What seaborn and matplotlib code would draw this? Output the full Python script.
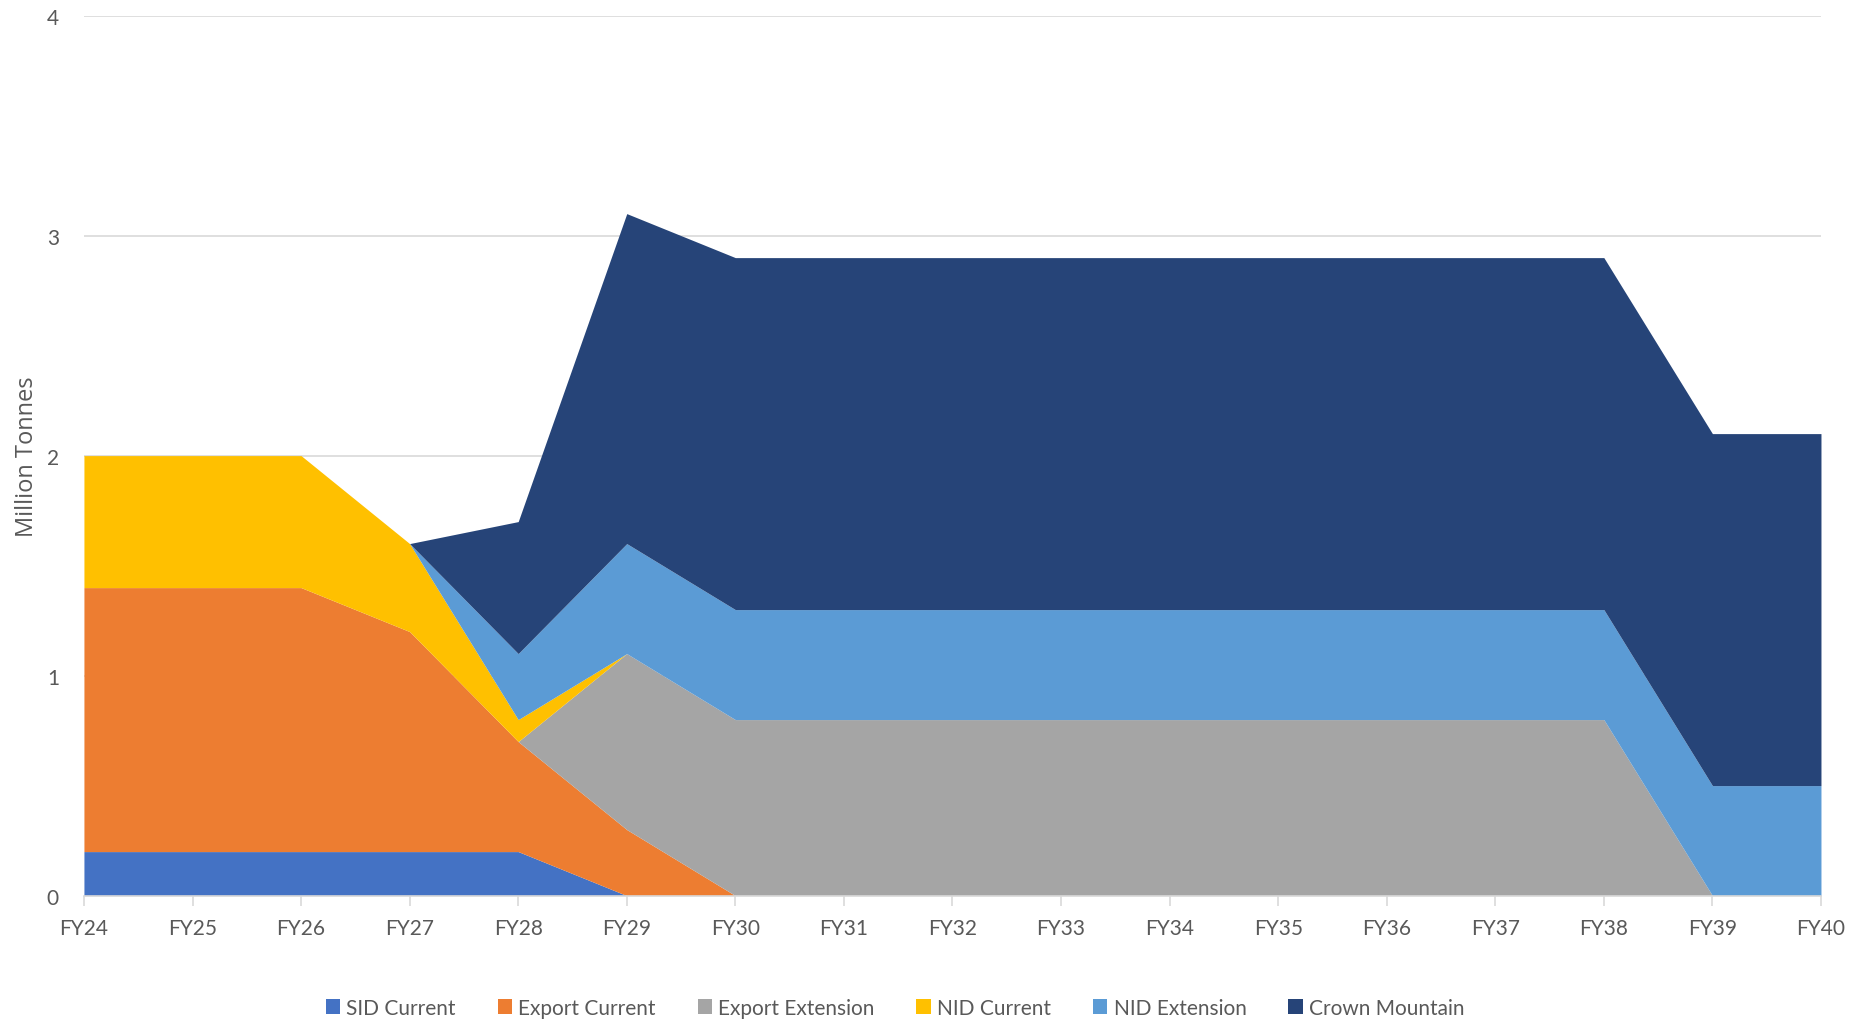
import matplotlib
matplotlib.use("Agg")
import matplotlib.pyplot as plt
import seaborn as sns
import numpy as np

# Fiscal years on the category axis
years = ["FY24", "FY25", "FY26", "FY27", "FY28", "FY29", "FY30", "FY31", "FY32",
         "FY33", "FY34", "FY35", "FY36", "FY37", "FY38", "FY39", "FY40"]

# Annual volumes by source (million tonnes), stacked bottom to top
sid_current      = [0.2, 0.2, 0.2, 0.2, 0.2, 0.0, 0.0, 0.0, 0.0, 0.0, 0.0, 0.0, 0.0, 0.0, 0.0, 0.0, 0.0]
export_current   = [1.2, 1.2, 1.2, 1.0, 0.5, 0.3, 0.0, 0.0, 0.0, 0.0, 0.0, 0.0, 0.0, 0.0, 0.0, 0.0, 0.0]
export_extension = [0.0, 0.0, 0.0, 0.0, 0.0, 0.8, 0.8, 0.8, 0.8, 0.8, 0.8, 0.8, 0.8, 0.8, 0.8, 0.0, 0.0]
nid_current      = [0.6, 0.6, 0.6, 0.4, 0.1, 0.0, 0.0, 0.0, 0.0, 0.0, 0.0, 0.0, 0.0, 0.0, 0.0, 0.0, 0.0]
nid_extension    = [0.0, 0.0, 0.0, 0.0, 0.3, 0.5, 0.5, 0.5, 0.5, 0.5, 0.5, 0.5, 0.5, 0.5, 0.5, 0.5, 0.5]
crown_mountain   = [0.0, 0.0, 0.0, 0.0, 0.6, 1.5, 1.6, 1.6, 1.6, 1.6, 1.6, 1.6, 1.6, 1.6, 1.6, 1.6, 1.6]

series_names = ["SID Current", "Export Current", "Export Extension",
                "NID Current", "NID Extension", "Crown Mountain"]
series_colors = ["#4472C4", "#ED7D31", "#A5A5A5", "#FFC000", "#5B9BD5", "#264478"]

sns.set_theme(style="white")
plt.rcParams["font.family"] = ["Lato", "DejaVu Sans"]

fig = plt.figure(figsize=(18.57, 10.20), dpi=100)
ax = fig.add_axes([0.0452, 0.121, 0.9354, 0.8627])

x = np.arange(len(years))
ax.stackplot(x, sid_current, export_current, export_extension, nid_current,
             nid_extension, crown_mountain, colors=series_colors,
             labels=series_names, linewidth=0, zorder=2)

ax.set_xlim(0, len(years) - 1)
ax.set_ylim(0, 4)
ax.set_yticks([0, 1, 2, 3, 4])
ax.set_xticks(x)
ax.set_xticklabels(years)

ax.yaxis.grid(True, color="#D9D9D9", linewidth=1.2, zorder=0)
ax.xaxis.grid(False)
for side in ["top", "right", "left"]:
    ax.spines[side].set_visible(False)
ax.spines["bottom"].set_color("#D9D9D9")
ax.spines["bottom"].set_linewidth(1.2)
ax.spines["bottom"].set_zorder(3)

ax.tick_params(axis="x", which="both", bottom=True, length=7, width=1.2,
               color="#D9D9D9", labelsize=15, labelcolor="#595959", pad=9)
ax.tick_params(axis="y", left=False, labelsize=15, labelcolor="#595959", pad=12)

ax.set_ylabel("Million Tonnes", fontsize=17, color="#595959",
              family=["Open Sans", "DejaVu Sans"])
ax.yaxis.set_label_coords(-0.026, 0.5)

handles, labels = ax.get_legend_handles_labels()
fig.legend(handles, labels, loc="center", bbox_to_anchor=(0.482, 0.011),
           ncol=6, frameon=False, fontsize=15, handlelength=0.7,
           handleheight=0.7, handletextpad=0.3, columnspacing=2.0,
           labelcolor="#595959")

fig.savefig("out.png", dpi=100, facecolor="white")
